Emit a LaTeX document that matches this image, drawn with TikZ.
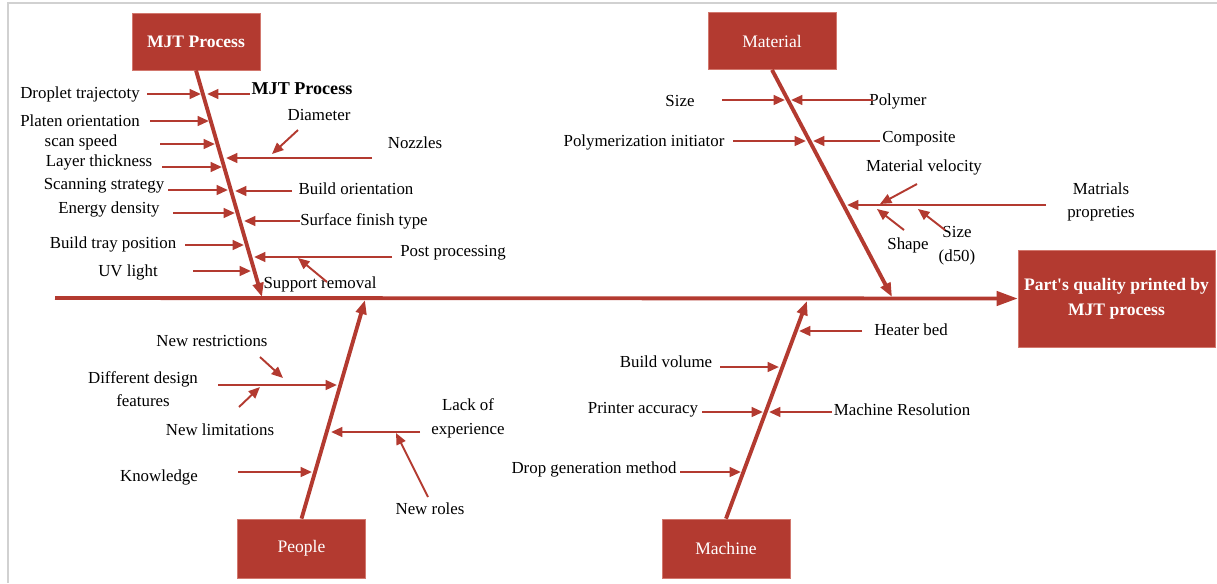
\documentclass[tikz,border=0pt]{standalone}
\usepackage{fontspec}
\setmainfont{Liberation Serif}
\usepackage{tikz}
\usetikzlibrary{positioning}
\usetikzlibrary{arrows.meta}
\definecolor{fishred}{RGB}{179,58,48}
\definecolor{fishedge}{RGB}{210,120,110}

\begin{document}
\begin{tikzpicture}[x=0.02cm,y=-0.02cm]
	\useasboundingbox (0,0) rectangle (1217,583);
	\draw[black!18, line width=1pt] (1217,3) -- (8,3) -- (8,583);

	% category boxes
	\begin{scope}[every node/.style={fill=fishred,draw=fishedge,text=white,
	              minimum width=2.56cm, minimum height=1.14cm,
	              font=\fontsize{10}{12}\selectfont}]
	    \node (mjt) at (196,41.5) {\bfseries MJT Process};
	    \node (mat) at (772,41) {Material};
	    \node (ppl) [minimum height=1.18cm] at (301.5,548.5) {People};
	    \node (mach) [minimum height=1.18cm] at (726,548.5) {Machine};
	    \node (eff) [minimum width=3.86cm, minimum height=1.94cm, align=center,
	          font=\fontsize{10}{14}\selectfont\bfseries] at (1116.5,298.5)
	          {Part\textquotesingle s quality printed by\\MJT process};
	\end{scope}

	% labels
	\begin{scope}[every node/.style={font=\fontsize{9.6}{13.5}\selectfont,
	              align=center, inner sep=0pt}]
	    \node (dropl) at (80,94) {Droplet trajectoty};
	    \node (platen) at (80,121) {Platen orientation};
	    \node (scan) at (81,142) {scan speed};
	    \node (layer) at (99,162) {Layer thickness};
	    \node (strat) at (104,186) {Scanning strategy};
	    \node (energy) at (109,209) {Energy density};
	    \node (tray) at (113,244) {Build tray position};
	    \node (uv) at (128,272) {UV light};
	    \node (mjtlbl) [font=\fontsize{10.3}{12}\selectfont\bfseries] at (302,89) {MJT Process};
	    \node (diam) at (319,115) {Diameter};
	    \node (nozz) at (415,143) {Nozzles};
	    \node (orient) at (356,189) {Build orientation};
	    \node (surf) at (364,221) {Surface finish type};
	    \node (post) at (453,253) {Post processing};
	    \node (supp) at (320,284) {Support removal};

	    \node (size) at (680,101) {Size};
	    \node (poly) at (898,101) {Polymer};
	    \node (init) at (644,142) {Polymerization initiator};
	    \node (comp) at (919,139) {Composite};
	    \node (velo) at (924,167) {Material velocity};
	    \node (prop) at (1101,202) {Matrials\\propreties};
	    \node (shape) at (908,245) {Shape};
	    \node (dfifty) at (957,246) {Size\\(d50)};

	    \node (restr) at (212,341) {New restrictions};
	    \node (design) at (143,389) {Different design\\features};
	    \node (limit) at (220,430) {New limitations};
	    \node (lack) at (468,418) {Lack of\\experience};
	    \node (roles) at (430,509) {New roles};
	    \node (know) at (159,477) {Knowledge};

	    \node (heat) at (911,330) {Heater bed};
	    \node (vol) at (666,362) {Build volume};
	    \node (acc) at (643,410) {Printer accuracy};
	    \node (res) at (902,410) {Machine Resolution};
	    \node (dropgen) at (594,469) {Drop generation method};
	\end{scope}

	% end points of the spine and bones
	\coordinate (spinestart) at (55,298);
	\coordinate (mjtend) at (262,297);
	\coordinate (matend) at (892,297);
	\coordinate (pplend) at (365,300);
	\coordinate (machend) at (807,301);

	% MJT branches
	\coordinate (dropT) at (147,94);    \coordinate (dropH) at (201,94);
	\coordinate (mjtT) at (250,94);     \coordinate (mjtH) at (207,94);
	\coordinate (platT) at (150,121);   \coordinate (platH) at (209,121);
	\coordinate (scanT) at (160,144);   \coordinate (scanH) at (215,144);
	\coordinate (layT) at (162,167);    \coordinate (layH) at (222,167);
	\coordinate (strT) at (168,190);    \coordinate (strH) at (228,190);
	\coordinate (oriT) at (292,191);    \coordinate (oriH) at (235,191);
	\coordinate (enT) at (173,213);     \coordinate (enH) at (235,213);
	\coordinate (surT) at (300,221);    \coordinate (surH) at (244,221);
	\coordinate (trayT) at (185,245);   \coordinate (trayH) at (244,245);
	\coordinate (postT) at (392,257);   \coordinate (postH) at (254,257);
	\coordinate (uvT) at (193,271);     \coordinate (uvH) at (251,271);
	\coordinate (nozT) at (372,158);    \coordinate (nozH) at (226,158);
	\coordinate (diaT) at (298,130);    \coordinate (diaH) at (272,154);
	\coordinate (supT) at (327,282);    \coordinate (supH) at (298,258);

	% Material branches
	\coordinate (sizeT) at (722,100);   \coordinate (sizeH) at (785,100);
	\coordinate (polyT) at (873,100);   \coordinate (polyH) at (791,100);
	\coordinate (initT) at (733,141);   \coordinate (initH) at (806,141);
	\coordinate (compT) at (880,141);   \coordinate (compH) at (813,141);
	\coordinate (propT) at (1046,205);  \coordinate (propH) at (847,205);
	\coordinate (veloT) at (917,184);   \coordinate (veloH) at (880,204);
	\coordinate (shapeT) at (904,230);  \coordinate (shapeH) at (877,209);
	\coordinate (dfT) at (945,230);     \coordinate (dfH) at (918,209);

	% People branches
	\coordinate (desT) at (218,385);    \coordinate (desH) at (337,385);
	\coordinate (lackT) at (420,432);   \coordinate (lackH) at (331,432);
	\coordinate (knowT) at (238,472);   \coordinate (knowH) at (312,472);
	\coordinate (restrT) at (260,357);  \coordinate (restrH) at (283,378);
	\coordinate (limT) at (239,407);    \coordinate (limH) at (260,387);
	\coordinate (rolT) at (428,497);    \coordinate (rolH) at (396,433);

	% Machine branches
	\coordinate (heatT) at (862,331);   \coordinate (heatH) at (799,331);
	\coordinate (volT) at (720,367);    \coordinate (volH) at (779,367);
	\coordinate (accT) at (702,412);    \coordinate (accH) at (763,412);
	\coordinate (resT) at (832,412);    \coordinate (resH) at (769,412);
	\coordinate (genT) at (680,472);    \coordinate (genH) at (741,472);

	% spine and bones
	\begin{scope}[every edge/.style={draw=fishred, line width=2.2pt}]
	    \path [-{Triangle[length=12pt,width=8pt]}] (spinestart) edge (eff.west);
	    \path [-{Triangle[length=8pt,width=6pt]}] (mjt.south) edge (mjtend);
	    \path [-{Triangle[length=8pt,width=6pt]}] (mat.south) edge (matend);
	    \path [-{Triangle[length=8pt,width=6pt]}] (ppl.north) edge (pplend);
	    \path [-{Triangle[length=8pt,width=6pt]}] (mach.north) edge (machend);
	\end{scope}

	\begin{scope}[>={Triangle[length=6.5pt,width=5.5pt]},
	              every edge/.style={draw=fishred, line width=1.4pt}]
	    \path [->] (dropT) edge (dropH);
	    \path [->] (mjtT) edge (mjtH);
	    \path [->] (platT) edge (platH);
	    \path [->] (scanT) edge (scanH);
	    \path [->] (layT) edge (layH);
	    \path [->] (strT) edge (strH);
	    \path [->] (oriT) edge (oriH);
	    \path [->] (enT) edge (enH);
	    \path [->] (surT) edge (surH);
	    \path [->] (trayT) edge (trayH);
	    \path [->] (postT) edge (postH);
	    \path [->] (uvT) edge (uvH);
	    \path [->] (nozT) edge (nozH);

	    \path [->] (sizeT) edge (sizeH);
	    \path [->] (polyT) edge (polyH);
	    \path [->] (initT) edge (initH);
	    \path [->] (compT) edge (compH);
	    \path [->] (propT) edge (propH);

	    \path [->] (desT) edge (desH);
	    \path [->] (lackT) edge (lackH);
	    \path [->] (knowT) edge (knowH);

	    \path [->] (heatT) edge (heatH);
	    \path [->] (volT) edge (volH);
	    \path [->] (accT) edge (accH);
	    \path [->] (resT) edge (resH);
	    \path [->] (genT) edge (genH);
	\end{scope}

	% small slanted arrows
	\begin{scope}[>={Triangle[length=6.5pt,width=5.5pt]},
	              every edge/.style={draw=fishred, line width=1.1pt}]
	    \path [->] (diaT) edge (diaH);
	    \path [->] (supT) edge (supH);
	    \path [->] (veloT) edge (veloH);
	    \path [->] (shapeT) edge (shapeH);
	    \path [->] (dfT) edge (dfH);
	    \path [->] (restrT) edge (restrH);
	    \path [->] (limT) edge (limH);
	    \path [->] (rolT) edge (rolH);
	\end{scope}
\end{tikzpicture}
\end{document}
